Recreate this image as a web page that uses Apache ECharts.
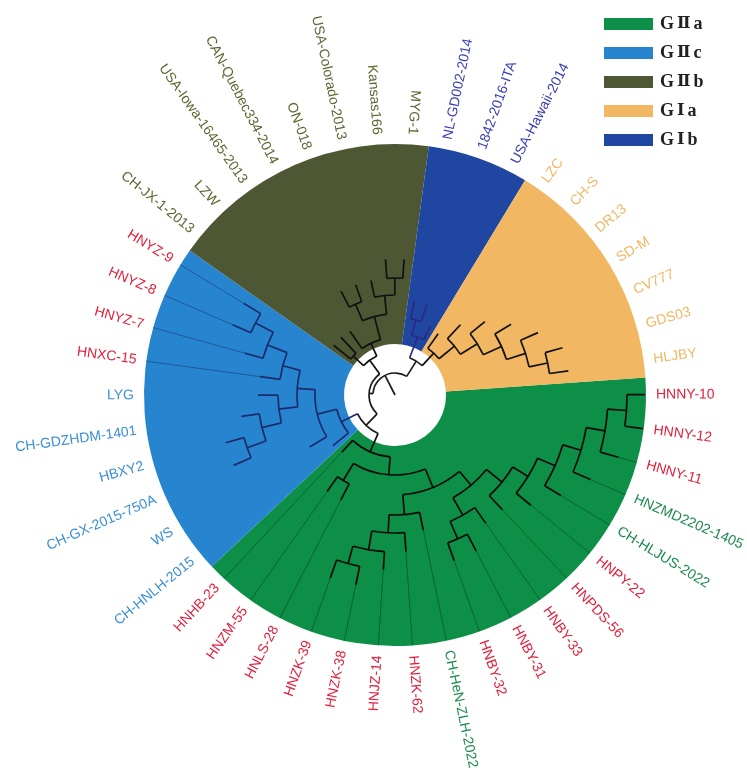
<!DOCTYPE html>
<html lang="en">
<head>
<meta charset="UTF-8">
<title>Circular tree</title>
<script src="https://cdn.jsdelivr.net/npm/echarts@6/dist/echarts.min.js"></script>
<style>html, body { margin: 0; background: #fff; }</style>
</head>
<body>
<div id="main" style="width: 747px; height: 776px"></div>
<script>
// leaves in clockwise order, starting just below the GIa / GIIa border
const leaves = [
  'HNNY-10', 'HNNY-12', 'HNNY-11', 'HNZMD2202-1405', 'CH-HLJUS-2022', 'HNPY-22',
  'HNPDS-56', 'HNBY-33', 'HNBY-31', 'HNBY-32', 'CH-HeN-ZLH-2022', 'HNZK-62',
  'HNJZ-14', 'HNZK-38', 'HNZK-39', 'HNLS-28', 'HNZM-55', 'HNHB-23',
  'CH-HNLH-2015', 'WS', 'CH-GX-2015-750A', 'HBXY2', 'CH-GDZHDM-1401', 'LYG',
  'HNXC-15', 'HNYZ-7', 'HNYZ-8', 'HNYZ-9',
  'CH-JX-1-2013', 'LZW', 'USA-Iowa-16465-2013', 'CAN-Quebec334-2014', 'ON-018',
  'USA-Colorado-2013', 'Kansas166', 'MYG-1',
  'NL-GD002-2014', '1842-2016-ITA', 'USA-Hawaii-2014',
  'LZC', 'CH-S', 'DR13', 'SD-M', 'CV777', 'GDS03', 'HLJBY'
];
// distance of each tip from the centre (same order as leaves)
const tipRadius = [
  250, 250, 232, 213, 194, 175, 157, 157, 176, 176, 138, 157, 175, 194, 194, 118, 118, 78,
  80, 100, 176, 176, 155, 137, 136, 156, 177, 177,
  79, 79, 78, 117, 117, 117, 136, 136,
  96, 96, 78,
  75, 96, 116, 136, 156, 174, 175
];
const clades = ['GⅡa', 'GⅡc', 'GⅡb', 'GⅠb', 'GⅠa'];
const cladeSizes = [18, 10, 8, 3, 7];
const legendOrder = ['GⅡa', 'GⅡc', 'GⅡb', 'GⅠa', 'GⅠb'];
const redLeaves = [
  'HNNY-10', 'HNNY-12', 'HNNY-11', 'HNPY-22', 'HNPDS-56', 'HNBY-33', 'HNBY-31', 'HNBY-32',
  'HNZK-62', 'HNJZ-14', 'HNZK-38', 'HNZK-39', 'HNLS-28', 'HNZM-55', 'HNHB-23',
  'HNXC-15', 'HNYZ-7', 'HNYZ-8', 'HNYZ-9'
];
// tips that carry a thin guide line out to the rim
const leaderLeaves = [
  'HNNY-11', 'HNZMD2202-1405', 'CH-HLJUS-2022', 'HNPY-22', 'HNPDS-56', 'HNBY-33', 'HNBY-31',
  'HNBY-32', 'CH-HeN-ZLH-2022', 'HNZK-62', 'HNJZ-14', 'HNZK-38', 'HNZK-39', 'HNLS-28',
  'HNZM-55', 'HNHB-23', 'HNXC-15', 'HNYZ-7', 'HNYZ-8', 'HNYZ-9'
];
// internal nodes: [name, child, child, distance from centre]
const nodes = [
  ['nn10', 'HNNY-10', 'HNNY-12', 232],
  ['n11', 'HNNY-11', 'nn10', 213],
  ['n12', 'HNZMD2202-1405', 'n11', 194],
  ['n13', 'CH-HLJUS-2022', 'n12', 175],
  ['n14', 'HNPY-22', 'n13', 156],
  ['n15', 'HNPDS-56', 'n14', 138],
  ['by', 'HNBY-31', 'HNBY-32', 157],
  ['x', 'HNBY-33', 'by', 138],
  ['n16', 'n15', 'x', 118],
  ['g8', 'HNZK-38', 'HNZK-39', 175],
  ['g7', 'HNJZ-14', 'g8', 157],
  ['g6', 'HNZK-62', 'g7', 138],
  ['g4', 'CH-HeN-ZLH-2022', 'g6', 120],
  ['g3', 'n16', 'g4', 100],
  ['zl', 'HNLS-28', 'HNZM-55', 100],
  ['g2', 'g3', 'zl', 80],
  ['g1', 'g2', 'HNHB-23', 62],
  ['y98', 'HNYZ-8', 'HNYZ-9', 157],
  ['y7', 'HNYZ-7', 'y98', 137],
  ['xc', 'HNXC-15', 'y7', 116],
  ['gx', 'CH-GX-2015-750A', 'HBXY2', 157],
  ['gd', 'CH-GDZHDM-1401', 'gx', 137],
  ['lg', 'LYG', 'gd', 117],
  ['b1', 'xc', 'lg', 98],
  ['b2', 'WS', 'b1', 80],
  ['b3', 'CH-HNLH-2015', 'b2', 60],
  ['ca', 'g1', 'b3', 42],
  ['k', 'Kansas166', 'MYG-1', 117],
  ['c', 'USA-Colorado-2013', 'k', 100],
  ['q', 'CAN-Quebec334-2014', 'ON-018', 99],
  ['qc', 'q', 'c', 81],
  ['iq', 'USA-Iowa-16465-2013', 'qc', 57],
  ['j', 'CH-JX-1-2013', 'LZW', 57],
  ['ol', 'j', 'iq', 43],
  ['gii', 'ol', 'ca', 26],
  ['a', 'NL-GD002-2014', '1842-2016-ITA', 78],
  ['gib', 'a', 'USA-Hawaii-2014', 62],
  ['o6', 'GDS03', 'HLJBY', 156],
  ['o5', 'CV777', 'o6', 137],
  ['o4', 'SD-M', 'o5', 117],
  ['o3', 'DR13', 'o4', 97],
  ['o2', 'CH-S', 'o3', 77],
  ['o1', 'LZC', 'o2', 57],
  ['gi', 'gib', 'o1', 40],
  ['root', 'gi', 'gii', 22]
];

// styles
const sectorColors = { 'GⅡa': '#0e8f47', 'GⅡc': '#2785cf', 'GⅡb': '#4e5733', 'GⅠb': '#1f46a0', 'GⅠa': '#f2b762' };
const labelColors = { 'GⅡa': '#1d8a4e', 'GⅡc': '#3b8ed8', 'GⅡb': '#5b6630', 'GⅠb': '#3a3db4', 'GⅠa': '#f0b865' };
const branchColors = { 'GⅡa': '#0a0a0a', 'GⅡc': '#1c2b6c', 'GⅡb': '#111', 'GⅠb': '#2b2a82', 'GⅠa': '#111' };
const leaderColors = { 'GⅡa': 'rgba(0,45,20,0.5)', 'GⅡc': 'rgba(20,40,100,0.55)' };
const redColor = '#e3203c';
const rimR = 251, holeR = 51, labelR = 261, startDeg = 4;

// build the tree geometry in axis units (radius, leaf slot)
const info = {};
let acc = 0;
clades.forEach((cl, ci) => {
  for (let k = 0; k < cladeSizes[ci]; k++) {
    const i = acc + k;
    info[leaves[i]] = { v: i + 0.5, r: tipRadius[i], clade: cl };
  }
  acc += cladeSizes[ci];
});
const parent = {};
nodes.forEach(([name, c1, c2, r]) => {
  const a = info[c1], b = info[c2];
  info[name] = { v: (a.v + b.v) / 2, r: r, clade: a.clade === b.clade ? a.clade : null, kids: [c1, c2] };
  parent[c1] = name;
  parent[c2] = name;
});
const edges = [];
Object.keys(info).forEach(name => {
  const n = info[name];
  const pr = parent[name] ? info[parent[name]].r : 0;
  edges.push({ kind: 'radial', r0: pr, r1: n.r, v: n.v, clade: n.clade });
  if (n.kids) {
    const v0 = Math.min(info[n.kids[0]].v, info[n.kids[1]].v);
    const v1 = Math.max(info[n.kids[0]].v, info[n.kids[1]].v);
    edges.push({ kind: 'arc', r: n.r, v0: v0, v1: v1, clade: n.clade });
  }
});

function treeItem(params, api) {
  const cx = params.coordSys.cx, cy = params.coordSys.cy;
  const children = edges.map(e => {
    const stroke = e.clade ? branchColors[e.clade] : '#1a1a1a';
    if (e.kind === 'radial') {
      const p0 = api.coord([e.r0, e.v]), p1 = api.coord([e.r1, e.v]);
      return { type: 'line', shape: { x1: p0[0], y1: p0[1], x2: p1[0], y2: p1[1] },
        style: { stroke: stroke, lineWidth: 1.7 } };
    }
    const p0 = api.coord([e.r, e.v0]), p1 = api.coord([e.r, e.v1]);
    const rad = Math.hypot(p0[0] - cx, p0[1] - cy);
    const a0 = Math.atan2(p0[1] - cy, p0[0] - cx);
    let d = Math.atan2(p1[1] - cy, p1[0] - cx) - a0;
    while (d < 0) d += Math.PI * 2;
    return { type: 'arc', shape: { cx: cx, cy: cy, r: rad, startAngle: a0, endAngle: a0 + d, clockwise: true },
      style: { stroke: stroke, fill: 'none', lineWidth: 1.7 } };
  });
  return { type: 'group', children: children };
}

function leaderItem(params, api) {
  const children = leaderLeaves.map(name => {
    const n = info[name];
    const p0 = api.coord([n.r, n.v]), p1 = api.coord([rimR, n.v]);
    return { type: 'line', shape: { x1: p0[0], y1: p0[1], x2: p1[0], y2: p1[1] },
      style: { stroke: leaderColors[n.clade], lineWidth: 0.9 } };
  });
  return { type: 'group', children: children };
}

function labelItem(params, api) {
  const cx = params.coordSys.cx, cy = params.coordSys.cy;
  const children = leaves.map((name, i) => {
    const p = api.coord([labelR, i + 0.5]);
    const deg = (Math.atan2(cy - p[1], p[0] - cx) * 180 / Math.PI + 360) % 360;
    const flip = deg > 82 && deg < 270;
    const color = redLeaves.includes(name) ? redColor : labelColors[info[name].clade];
    return { type: 'text', x: p[0], y: p[1], rotation: (flip ? deg + 180 : deg) * Math.PI / 180,
      style: { text: name, fill: color, font: '14px "Liberation Sans", Arial, sans-serif',
        align: flip ? 'right' : 'left', verticalAlign: 'middle' } };
  });
  return { type: 'group', children: children };
}

let myChart = echarts.init(document.getElementById('main'));
let options = {
  animation: false,
  backgroundColor: '#fff',
  legend: {
    orient: 'vertical',
    left: 599,
    top: 10,
    itemWidth: 49,
    itemHeight: 12,
    itemGap: 11,
    icon: 'rect',
    selectedMode: false,
    data: legendOrder,
    formatter: name => '{g|' + name[0] + '}{n|' + name[1] + '}{g|' + name.slice(2) + '}',
    textStyle: {
      padding: [0, 0, 0, 2],
      rich: {
        g: { fontFamily: '"Liberation Serif", "DejaVu Serif", serif', fontSize: 18, fontWeight: 'bold', color: '#222' },
        n: { fontFamily: '"DejaVu Serif", serif', fontSize: 16, fontWeight: 'bold', color: '#222', padding: [0, 3, 0, 3] }
      }
    }
  },
  polar: { center: [395, 395], radius: [0, 300] },
  angleAxis: { type: 'value', min: 0, max: leaves.length, startAngle: startDeg, clockwise: true, show: false },
  radiusAxis: { type: 'value', min: 0, max: 300, show: false },
  series: [
    {
      type: 'pie',
      center: [395, 395],
      radius: [holeR, rimR],
      startAngle: startDeg,
      clockwise: true,
      silent: true,
      label: { show: false },
      labelLine: { show: false },
      emphasis: { disabled: true },
      itemStyle: { borderWidth: 0 },
      data: clades.map((cl, i) => ({ name: cl, value: cladeSizes[i], itemStyle: { color: sectorColors[cl] } }))
    },
    { type: 'custom', coordinateSystem: 'polar', z: 4, silent: true, data: [[0, 0]], renderItem: leaderItem },
    { type: 'custom', coordinateSystem: 'polar', z: 5, silent: true, data: [[0, 0]], renderItem: treeItem },
    { type: 'custom', coordinateSystem: 'polar', z: 5, silent: true, data: [[0, 0]], renderItem: labelItem }
  ]
};
myChart.setOption(options);
</script>
</body>
</html>
